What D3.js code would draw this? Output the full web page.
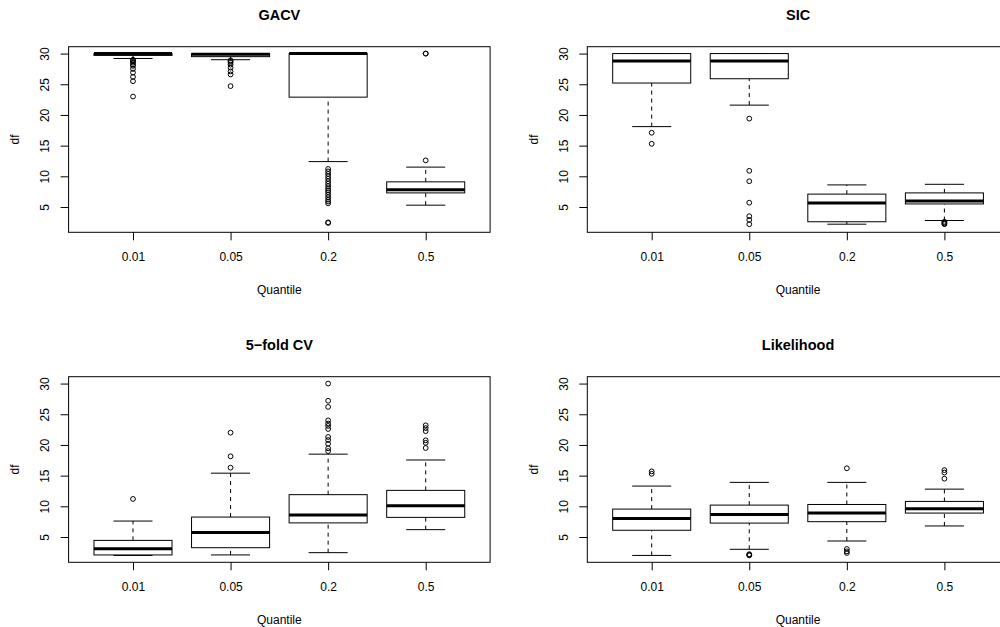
<!DOCTYPE html>
<html>
<head>
<meta charset="utf-8">
<script src="https://cdn.jsdelivr.net/npm/d3@7"></script>
<style>
  body { margin: 0; background: #fff; }
  svg { display: block; font-family: "Liberation Sans", Arial, sans-serif; }
</style>
</head>
<body>
<div class="AllMap"></div>
<script>
// quantile groups and y ticks
const quantiles = ["0.01", "0.05", "0.2", "0.5"];
const yTicks = [5, 10, 15, 20, 25, 30];
const titles = ["GACV", "SIC", "5\u2212fold CV", "Likelihood"];

// box stats: [lower whisker, Q1, median, Q3, upper whisker]
const gacvStats = [[29.2, 29.7, 30, 30, 30], [29.0, 29.5, 29.9, 30, 30], [12.4, 22.9, 30, 30, 30], [5.3, 7.3, 7.8, 9.1, 11.5]];
const gacvOut = [
  [29.0, 28.9, 28.7, 28.5, 28.2, 28.0, 27.5, 26.9, 26.2, 25.5, 23.0],
  [28.9, 28.75, 28.5, 28.2, 27.7, 27.1, 26.6, 24.7],
  [11.2, 10.8, 10.4, 10.0, 9.6, 9.2, 8.8, 8.4, 8.0, 7.7, 7.4, 7.0, 6.6, 6.2, 5.9, 5.6, 2.5, 2.4],
  [12.6, 30, 30]
];

const sicStats = [[18.1, 25.2, 28.8, 30, 30], [21.6, 25.9, 28.8, 30, 30], [2.2, 2.6, 5.65, 7.1, 8.6], [2.8, 5.5, 6.0, 7.3, 8.7]];
const sicOut = [
  [17.1, 15.3],
  [19.4, 10.9, 9.2, 5.7, 3.5, 2.9, 2.2],
  [],
  [2.6, 2.45, 2.3, 2.2]
];

const cvStats = [[2.0, 2.08, 3.1, 4.45, 7.6], [2.08, 3.26, 5.75, 8.25, 15.4], [2.45, 7.3, 8.57, 11.9, 18.5], [6.2, 8.2, 10.1, 12.6, 17.55]];
const cvOut = [
  [11.2],
  [16.3, 18.15, 22.0],
  [19.0, 19.45, 20.2, 20.8, 21.3, 22.6, 23.1, 23.5, 24.0, 26.2, 27.2, 30],
  [19.5, 20.35, 20.75, 22.25, 22.75, 23.2]
];

const likStats = [[2.0, 6.1, 8.0, 9.55, 13.3], [3.0, 7.27, 8.67, 10.2, 13.9], [4.35, 7.5, 8.9, 10.3, 13.9], [6.8, 8.9, 9.6, 10.8, 12.8]];
const likOut = [
  [15.3, 15.7],
  [2.2, 2.1, 2.0],
  [16.2, 3.05, 2.66, 2.4],
  [14.5, 15.5, 15.9]
];

const allStats = [gacvStats, sicStats, cvStats, likStats];
const allOut = [gacvOut, sicOut, cvOut, likOut];

const width = 1000, height = 627;
const svg = d3.select(".AllMap").append("svg")
  .attr("width", width)
  .attr("height", height);

// plot region of each panel (right column runs off the picture)
const origins = [[68.6, 46.7], [587.3, 46.7], [68.6, 376.7], [587.3, 376.7]];
const pw = 421.5, ph = 185.6;

const x = d3.scaleLinear().domain([0.34, 4.66]).range([0, pw]);
const y = d3.scaleLinear().domain([0.88, 31.12]).range([ph, 0]);
const boxHalf = 0.4, stapleHalf = 0.2;

origins.forEach(function(o, p) {
  const g = svg.append("g").attr("transform", "translate(" + o[0] + "," + o[1] + ")");
  const stats = allStats[p];
  const outs = allOut[p];

  // y axis
  const ya = g.append("g")
    .call(d3.axisLeft(y).tickValues(yTicks).tickSize(8).tickFormat(d3.format("d")));
  ya.select(".domain").remove();
  ya.selectAll("line").attr("stroke", "#000");
  ya.selectAll("text")
    .attr("transform", "rotate(-90)")
    .attr("x", 0).attr("y", -23.6).attr("dy", "0.35em")
    .attr("text-anchor", "middle")
    .attr("font-size", 12).attr("fill", "#000")
    .attr("font-family", "Liberation Sans, Arial, sans-serif");

  // x axis
  const xa = g.append("g").attr("transform", "translate(0," + ph + ")")
    .call(d3.axisBottom(x).tickValues([1, 2, 3, 4]).tickSize(8).tickFormat(function(d) { return quantiles[d - 1]; }));
  xa.select(".domain").remove();
  xa.selectAll("line").attr("stroke", "#000");
  xa.selectAll("text")
    .attr("y", 24.4).attr("dy", "0.35em")
    .attr("font-size", 12).attr("fill", "#000")
    .attr("font-family", "Liberation Sans, Arial, sans-serif");

  const boxes = g.selectAll(".bx").data(stats).enter().append("g").attr("class", "bx");

  // whiskers
  boxes.append("line")
    .attr("x1", function(d, i) { return x(i + 1); }).attr("x2", function(d, i) { return x(i + 1); })
    .attr("y1", function(d) { return y(d[0]); }).attr("y2", function(d) { return y(d[1]); })
    .attr("stroke", "#000").attr("stroke-dasharray", "4,4");
  boxes.append("line")
    .attr("x1", function(d, i) { return x(i + 1); }).attr("x2", function(d, i) { return x(i + 1); })
    .attr("y1", function(d) { return y(d[3]); }).attr("y2", function(d) { return y(d[4]); })
    .attr("stroke", "#000").attr("stroke-dasharray", "4,4");

  // staples
  [0, 4].forEach(function(k) {
    boxes.append("line")
      .attr("x1", function(d, i) { return x(i + 1 - stapleHalf); })
      .attr("x2", function(d, i) { return x(i + 1 + stapleHalf); })
      .attr("y1", function(d) { return y(d[k]); }).attr("y2", function(d) { return y(d[k]); })
      .attr("stroke", "#000");
  });

  // box
  boxes.append("rect")
    .attr("x", function(d, i) { return x(i + 1 - boxHalf); })
    .attr("width", x(1 + boxHalf) - x(1 - boxHalf))
    .attr("y", function(d) { return y(d[3]); })
    .attr("height", function(d) { return y(d[1]) - y(d[3]); })
    .attr("fill", "#fff").attr("stroke", "#000");

  // median
  boxes.append("line")
    .attr("x1", function(d, i) { return x(i + 1 - boxHalf); })
    .attr("x2", function(d, i) { return x(i + 1 + boxHalf); })
    .attr("y1", function(d) { return y(d[2]); }).attr("y2", function(d) { return y(d[2]); })
    .attr("stroke", "#000").attr("stroke-width", 3);

  // outliers
  const pts = [];
  outs.forEach(function(arr, i) { arr.forEach(function(v) { pts.push([i + 1, v]); }); });
  g.selectAll(".out").data(pts).enter().append("circle")
    .attr("class", "out")
    .attr("cx", function(d) { return x(d[0]); })
    .attr("cy", function(d) { return y(d[1]); })
    .attr("r", 2.4)
    .attr("fill", "none").attr("stroke", "#000");

  // frame
  g.append("rect").attr("width", pw).attr("height", ph)
    .attr("fill", "none").attr("stroke", "#000");

  // titles and axis labels
  g.append("text").attr("x", pw / 2).attr("y", -31.7).attr("dy", "0.35em")
    .attr("text-anchor", "middle").attr("font-weight", "bold").attr("font-size", 14.5)
    .text(titles[p]);
  g.append("text").attr("x", pw / 2).attr("y", ph + 57.7).attr("dy", "0.35em")
    .attr("text-anchor", "middle").attr("font-size", 12)
    .text("Quantile");
  g.append("text").attr("transform", "rotate(-90)")
    .attr("x", -ph / 2).attr("y", -53.6).attr("dy", "0.35em")
    .attr("text-anchor", "middle").attr("font-size", 12)
    .text("df");
});
</script>
</body>
</html>
